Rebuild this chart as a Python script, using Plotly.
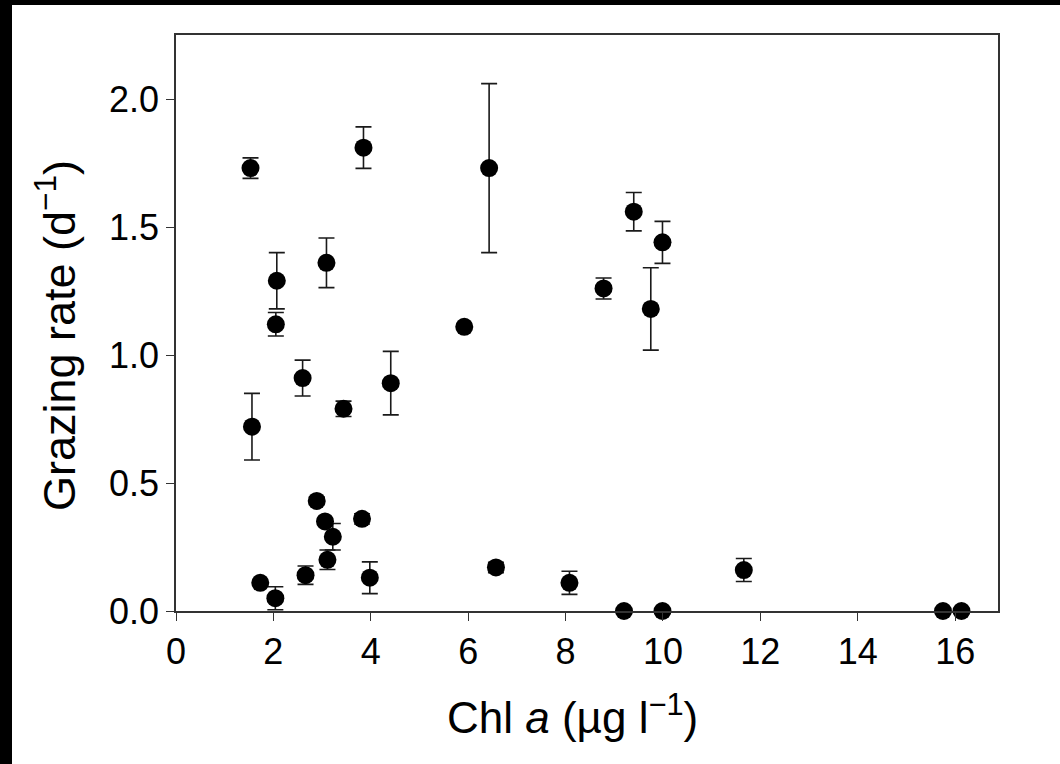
import plotly.graph_objects as go

chl_a = [1.53, 1.56, 1.73, 2.07, 2.05, 2.04, 2.60, 2.66, 2.89, 3.06, 3.09, 3.11, 3.22, 3.44,
         3.85, 3.82, 3.98, 4.41, 5.92, 6.43, 6.57, 8.08, 8.78, 9.20, 9.40, 9.75, 9.99, 9.99,
         11.66, 15.75, 16.13]
grazing = [1.73, 0.72, 0.11, 1.29, 1.12, 0.05, 0.91, 0.14, 0.43, 0.35, 1.36, 0.20, 0.29, 0.79,
           1.81, 0.36, 0.13, 0.89, 1.11, 1.73, 0.17, 0.11, 1.26, 0.0, 1.56, 1.18, 1.44, 0.0,
           0.16, 0.0, 0.0]
grazing_err = [0.04, 0.13, 0.0, 0.11, 0.046, 0.045, 0.07, 0.036, 0.015, 0.01, 0.097, 0.038, 0.052,
               0.03, 0.081, 0.02, 0.062, 0.124, 0.0, 0.33, 0.02, 0.045, 0.041, 0.0, 0.075, 0.161,
               0.082, 0.0, 0.045, 0.0, 0.0]

x_ticks = [0, 2, 4, 6, 8, 10, 12, 14, 16]
y_ticks = [0.0, 0.5, 1.0, 1.5, 2.0]
y_tick_labels = ["0.0", "0.5", "1.0", "1.5", "2.0"]

x_title = "Chl <i>a</i> (µg l<sup>−1</sup>)"
y_title = "Grazing rate (d<sup>−1</sup>)"

FONT = "Liberation Sans, Arial, Helvetica, sans-serif"

fig = go.Figure()
fig.add_trace(go.Scatter(
    x=chl_a, y=grazing, mode="markers",
    marker=dict(color="black", size=18, line=dict(width=0)),
    error_y=dict(type="data", array=grazing_err, visible=True,
                 color="#1a1a1a", thickness=1.6, width=8),
    cliponaxis=False, showlegend=False,
))

axis_common = dict(
    showline=True, linecolor="#333333", linewidth=1.6, mirror=True,
    ticks="outside", ticklen=8, tickwidth=1.4, tickcolor="#333333",
    showgrid=False, zeroline=False,
    tickfont=dict(family=FONT, size=36, color="black"),
)

fig.update_layout(
    width=1040, height=764,
    margin=dict(l=176, r=42, t=35, b=153),
    paper_bgcolor="white", plot_bgcolor="white",
    font=dict(family=FONT, color="black"),
    xaxis=dict(range=[0, 16.88], tickvals=x_ticks, **axis_common),
    yaxis=dict(range=[0, 2.25], tickvals=y_ticks, ticktext=y_tick_labels, **axis_common),
    annotations=[
        dict(text=x_title, xref="paper", yref="paper", x=(572 - 176) / 822, y=(611 - 714) / 576,
             xanchor="center", yanchor="middle", showarrow=False,
             font=dict(family=FONT, size=44, color="black")),
        dict(text=y_title, xref="paper", yref="paper", x=(56 - 176) / 822, y=(611 - 336) / 576,
             xanchor="center", yanchor="middle", showarrow=False, textangle=-90,
             font=dict(family=FONT, size=45, color="black")),
    ],
    shapes=[
        dict(type="rect", xref="paper", yref="paper", x0=-176/822, x1=-164/822,
             y0=-153/576, y1=611/576, fillcolor="black", line=dict(width=0), layer="above"),
        dict(type="rect", xref="paper", yref="paper", x0=-176/822, x1=864/822,
             y0=606/576, y1=611/576, fillcolor="black", line=dict(width=0), layer="above"),
    ],
)

fig.write_html(
    "out.html",
    config={"displayModeBar": False},
    post_script=("document.body.style.margin='0';"
                 "document.body.style.overflow='hidden';"
                 "document.documentElement.style.overflow='hidden';"
                 "document.documentElement.style.background='white';"
                 "document.body.style.background='white';"
                 "var s=document.createElement('div');"
                 "s.style.cssText='position:fixed;left:0;top:0;width:100vw;height:5px;background:black;';"
                 "document.body.appendChild(s);"),
)
